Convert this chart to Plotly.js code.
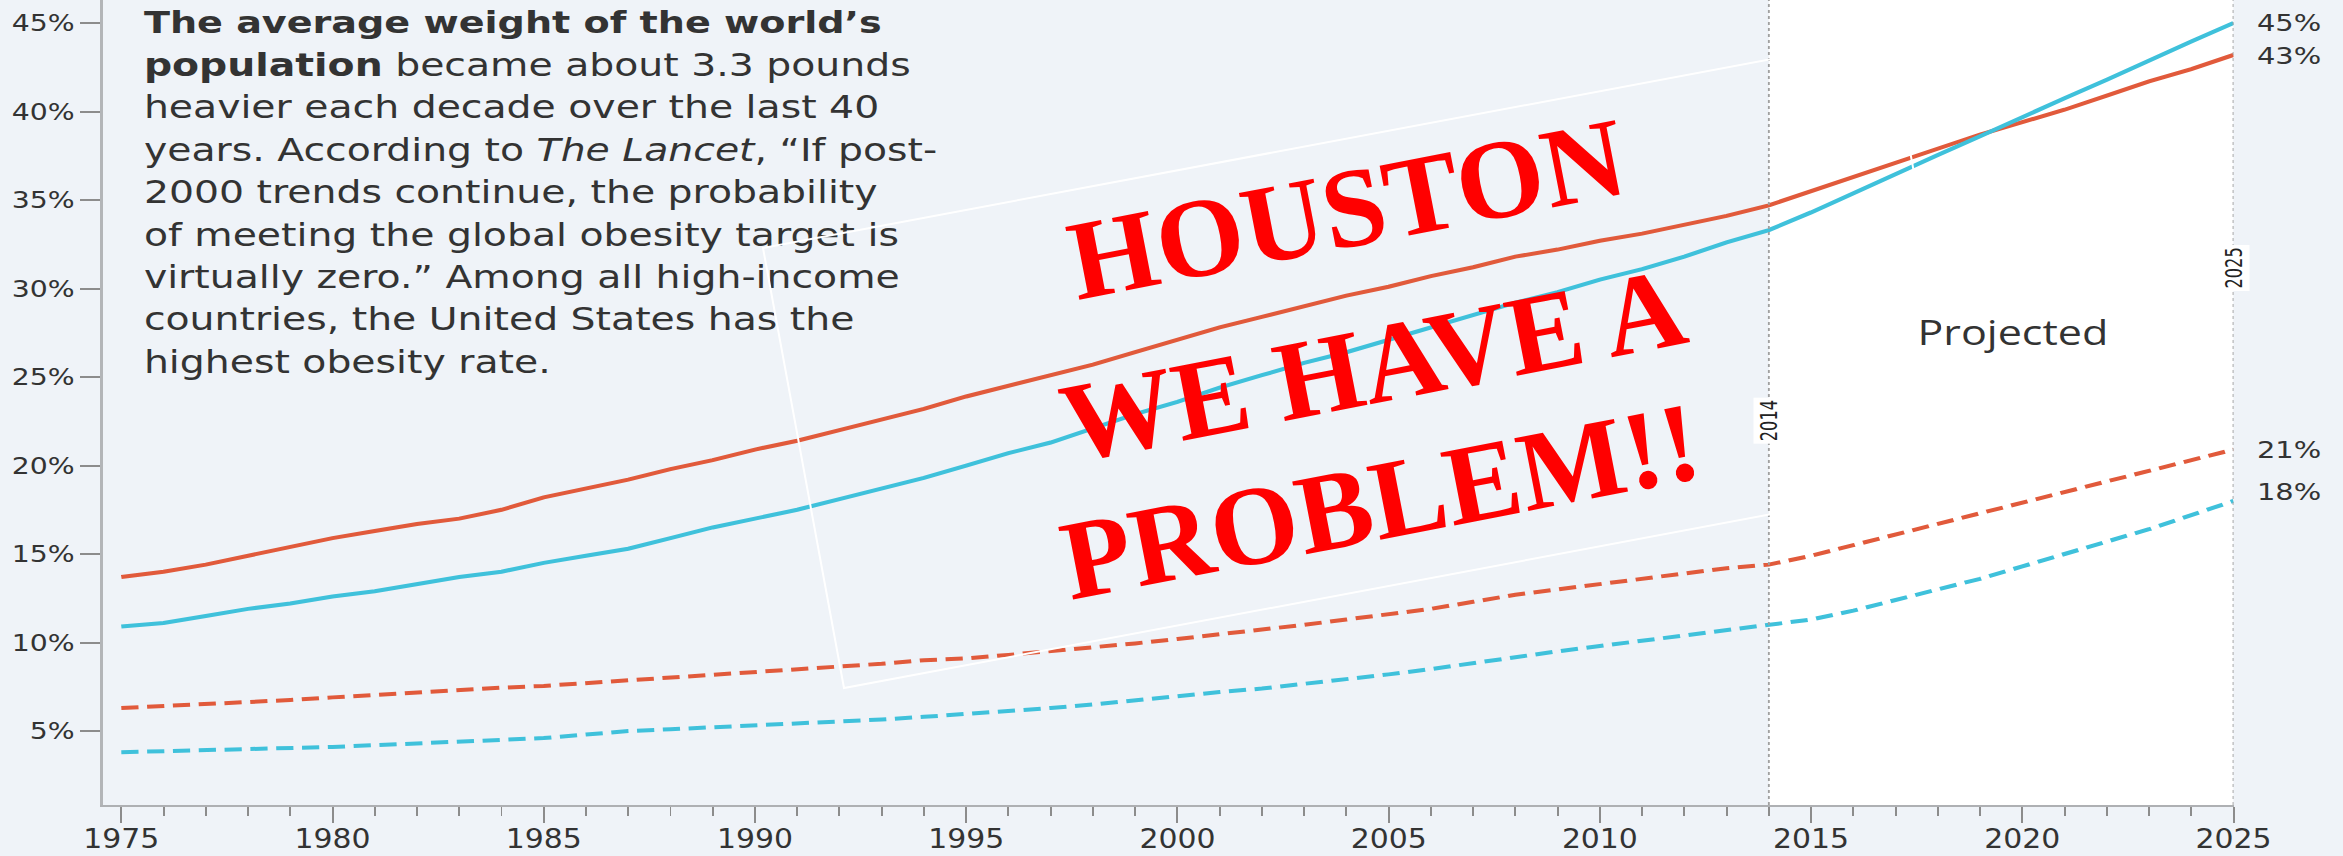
<!DOCTYPE html>
<html><head><meta charset="utf-8">
<script src="https://cdn.plot.ly/plotly-3.0.1.min.js"></script>
<style>
html,body{margin:0;padding:0;background:#eff3f8;overflow:hidden;width:2343px;height:856px;}
#chart{position:absolute;left:0;top:0;width:1905px;height:856px;transform:scaleX(1.229921);transform-origin:0 0;}
#overlay{position:absolute;left:0;top:0;width:2343px;height:856px;pointer-events:none;}
</style></head><body>
<div id="chart"></div><div id="overlay"></div>
<script>
// ---------- data ----------
const years = [1975,1976,1977,1978,1979,1980,1981,1982,1983,1984,1985,1986,1987,1988,1989,1990,1991,1992,1993,1994,1995,1996,1997,1998,1999,2000,2001,2002,2003,2004,2005,2006,2007,2008,2009,2010,2011,2012,2013,2014,2015,2016,2017,2018,2019,2020,2021,2022,2023,2024,2025];
const womenObesity = [13.7,14.0,14.4,14.9,15.4,15.9,16.3,16.7,17.0,17.5,18.2,18.7,19.2,19.8,20.3,20.9,21.4,22.0,22.6,23.2,23.9,24.5,25.1,25.7,26.4,27.1,27.8,28.4,29.0,29.6,30.1,30.7,31.2,31.8,32.2,32.7,33.1,33.6,34.1,34.7,35.5,36.3,37.1,37.9,38.7,39.4,40.1,40.9,41.7,42.4,43.2];
const menObesity = [10.9,11.1,11.5,11.9,12.2,12.6,12.9,13.3,13.7,14.0,14.5,14.9,15.3,15.9,16.5,17.0,17.5,18.1,18.7,19.3,20.0,20.7,21.3,22.1,22.9,23.6,24.4,25.1,25.8,26.4,27.1,27.8,28.5,29.2,29.8,30.5,31.1,31.8,32.6,33.3,34.3,35.4,36.5,37.55,38.6,39.7,40.75,41.8,42.9,43.95,45.0];
const womenSevere = [6.3,6.4,6.5,6.6,6.75,6.9,7.05,7.2,7.3,7.45,7.55,7.7,7.9,8.05,8.2,8.35,8.5,8.65,8.8,9.0,9.1,9.3,9.5,9.7,9.95,10.2,10.45,10.7,11.0,11.3,11.6,11.9,12.3,12.7,13.0,13.3,13.6,13.9,14.2,14.4,14.9,15.5,16.1,16.7,17.3,17.9,18.5,19.1,19.7,20.3,20.9];
const menSevere = [3.8,3.85,3.95,4.0,4.05,4.1,4.2,4.3,4.35,4.5,4.6,4.8,5.0,5.1,5.2,5.3,5.4,5.5,5.65,5.8,5.95,6.1,6.3,6.5,6.75,7.0,7.2,7.4,7.65,7.9,8.2,8.5,8.85,9.2,9.5,9.8,10.1,10.4,10.7,11.0,11.3,11.8,12.4,13.0,13.6,14.3,15.0,15.7,16.4,17.2,18.0];
const yTickVals = [5,10,15,20,25,30,35,40,45];
const yTickText = ['5%','10%','15%','20%','25%','30%','35%','40%','45%'];
const xTickVals = [1975,1980,1985,1990,1995,2000,2005,2010,2015,2020,2025];
const xTickText = ['1975','1980','1985','1990','1995','2000','2005','2010','2015','2020','2025'];
const projStart = 2014, projEnd = 2025;
const markerYears = ['2014','2025'];
const endLabels = ['45%','43%','21%','18%'];
const projectedLabel = 'Projected';
const bodyLines = [
  '<b>The average weight of the world\u2019s</b>',
  '<b>population</b> became about 3.3 pounds',
  'heavier each decade over the last 40',
  'years. According to <i>The Lancet</i>, \u201cIf post-',
  '2000 trends continue, the probability',
  'of meeting the global obesity target is',
  'virtually zero.\u201d Among all high-income',
  'countries, the United States has the',
  'highest obesity rate.'
];
const overlayLines = ['HOUSTON','WE HAVE A','PROBLEM!!'];

// ---------- geometry (reference pixels) ----------
const W = 1905, H = 856, S = 2343 / W;
const PL = 103, PR = 2234, PT = 0, PB = 805;
const px = ax => (ax - PL) / (PR - PL);
const py = ay => (PB - ay) / (PB - PT);
const RED = '#e15a3b', BLUE = '#3fc1db', TXT = '#333333';
const BODY_FONT = 'DejaVu Sans, Verdana, sans-serif';
const NARROW = '"Liberation Sans Narrow", "Arial Narrow", "DejaVu Sans Condensed", sans-serif';

const traces = [
  {x: years, y: womenObesity, mode: 'lines', name: 'Women, obesity', line: {color: RED, width: 4}},
  {x: years, y: menObesity, mode: 'lines', name: 'Men, obesity', line: {color: BLUE, width: 4}},
  {x: years, y: womenSevere, mode: 'lines', name: 'Women, severe obesity', line: {color: RED, width: 4, dash: '14px,7px'}},
  {x: years, y: menSevere, mode: 'lines', name: 'Men, severe obesity', line: {color: BLUE, width: 4, dash: '14px,7px'}}
];

const annotations = [];
bodyLines.forEach((t, i) => {
  const baseline = 33 + i * 42.5;
  annotations.push({xref: 'paper', yref: 'paper', x: px(141), y: py(baseline - 11), xanchor: 'left', yanchor: 'middle',
    text: t, showarrow: false, align: 'left', font: {family: BODY_FONT, size: i === 0 ? 31 : 32, color: TXT}});
});
annotations.push({xref: 'x', yref: 'paper', x: projStart, y: py(421), xanchor: 'center', text: markerYears[0], textangle: -90, showarrow: false,
  bgcolor: '#ffffff', borderpad: 2, font: {family: NARROW, size: 18, color: '#222'}});
annotations.push({xref: 'x', yref: 'paper', x: projEnd, y: py(245), xanchor: 'center', text: markerYears[1], textangle: -90, showarrow: false,
  bgcolor: '#ffffff', borderpad: 2, font: {family: NARROW, size: 18, color: '#222'}});
annotations.push({xref: 'paper', yref: 'paper', x: px(2013), y: py(331), xanchor: 'center', yanchor: 'middle', text: projectedLabel, showarrow: false,
  font: {family: 'Open Sans, sans-serif', size: 35, color: TXT}});
const lastIdx = years.length - 1;
const endVals = [menObesity[lastIdx], womenObesity[lastIdx], womenSevere[lastIdx], menSevere[lastIdx]];
const endShift = [0, -1, 0, 9];
endVals.forEach((v, i) => {
  annotations.push({xref: 'paper', yref: 'y', x: px(2255), y: v, yshift: endShift[i], xanchor: 'left', yanchor: 'middle',
    text: endLabels[i], showarrow: false, font: {family: BODY_FONT, size: 23.5, color: TXT}});
});

const layout = {
  width: W, height: H,
  margin: {l: PL / S, r: (2343 - PR) / S, t: PT, b: H - PB, pad: 0},
  paper_bgcolor: '#eff3f8', plot_bgcolor: '#eff3f8',
  showlegend: false,
  xaxis: {range: [1975 - 18 / 42.26, 2025], showgrid: false, zeroline: false,
    showline: true, linecolor: '#aeb0b3', linewidth: 2,
    tickmode: 'array', tickvals: xTickVals, ticktext: xTickText,
    ticks: 'outside', ticklen: 16, tickwidth: 1.6, tickcolor: '#8c8c8c',
    ticklabelstandoff: -7,
    minor: {dtick: 1, ticks: 'outside', ticklen: 9, tickwidth: 1.6, tickcolor: '#8c8c8c', showgrid: false},
    tickfont: {family: NARROW, size: 27, color: TXT}},
  yaxis: {range: [0.82, 46.3], showgrid: false, zeroline: false,
    showline: true, linecolor: '#b3b5b8', linewidth: 2.4,
    tickmode: 'array', tickvals: yTickVals, ticktext: yTickText,
    ticks: 'outside', ticklen: 16.3, tickwidth: 2, tickcolor: '#8c8c8c',
    tickfont: {family: BODY_FONT, size: 23, color: TXT}},
  shapes: [
    {type: 'rect', xref: 'x', yref: 'paper', x0: projStart, x1: projEnd, y0: 0, y1: 1, fillcolor: '#ffffff', line: {width: 0}, layer: 'below'},
    {type: 'line', xref: 'x', yref: 'paper', x0: projStart, x1: projStart, y0: 0, y1: 1, line: {color: '#a0a0a0', width: 1.5, dash: 'dot'}},
    {type: 'line', xref: 'x', yref: 'paper', x0: projEnd, x1: projEnd, y0: 0, y1: 1, line: {color: '#a0a0a0', width: 1.5, dash: 'dot'}}
  ],
  annotations: annotations
};

Plotly.newPlot('chart', traces, layout, {staticPlot: true, displayModeBar: false});

// ---------- overlay (not stretched) ----------
const ovCenters = [[1346, 208], [1373, 364], [1380, 500]];
const ovAnn = overlayLines.map((t, i) => ({xref: 'x', yref: 'y', x: ovCenters[i][0], y: ovCenters[i][1], xanchor: 'center', yanchor: 'middle',
  text: '<b>' + t + '</b>', textangle: -11, showarrow: false,
  font: {family: '"Liberation Serif", "Times New Roman", serif', size: 113, color: '#ff0000'}}));
const ovLayout = {
  width: 2343, height: 856, margin: {l: 0, r: 0, t: 0, b: 0, pad: 0},
  paper_bgcolor: 'rgba(0,0,0,0)', plot_bgcolor: 'rgba(0,0,0,0)', showlegend: false,
  xaxis: {range: [0, 2343], visible: false}, yaxis: {range: [856, 0], visible: false},
  shapes: [{type: 'path', xref: 'x', yref: 'y', path: 'M763,248 L1889,37 L1970,477 L844,688 Z', line: {color: '#ffffff', width: 2}, layer: 'above'}],
  annotations: ovAnn
};
Plotly.newPlot('overlay', [], ovLayout, {staticPlot: true, displayModeBar: false});
</script>
</body></html>
